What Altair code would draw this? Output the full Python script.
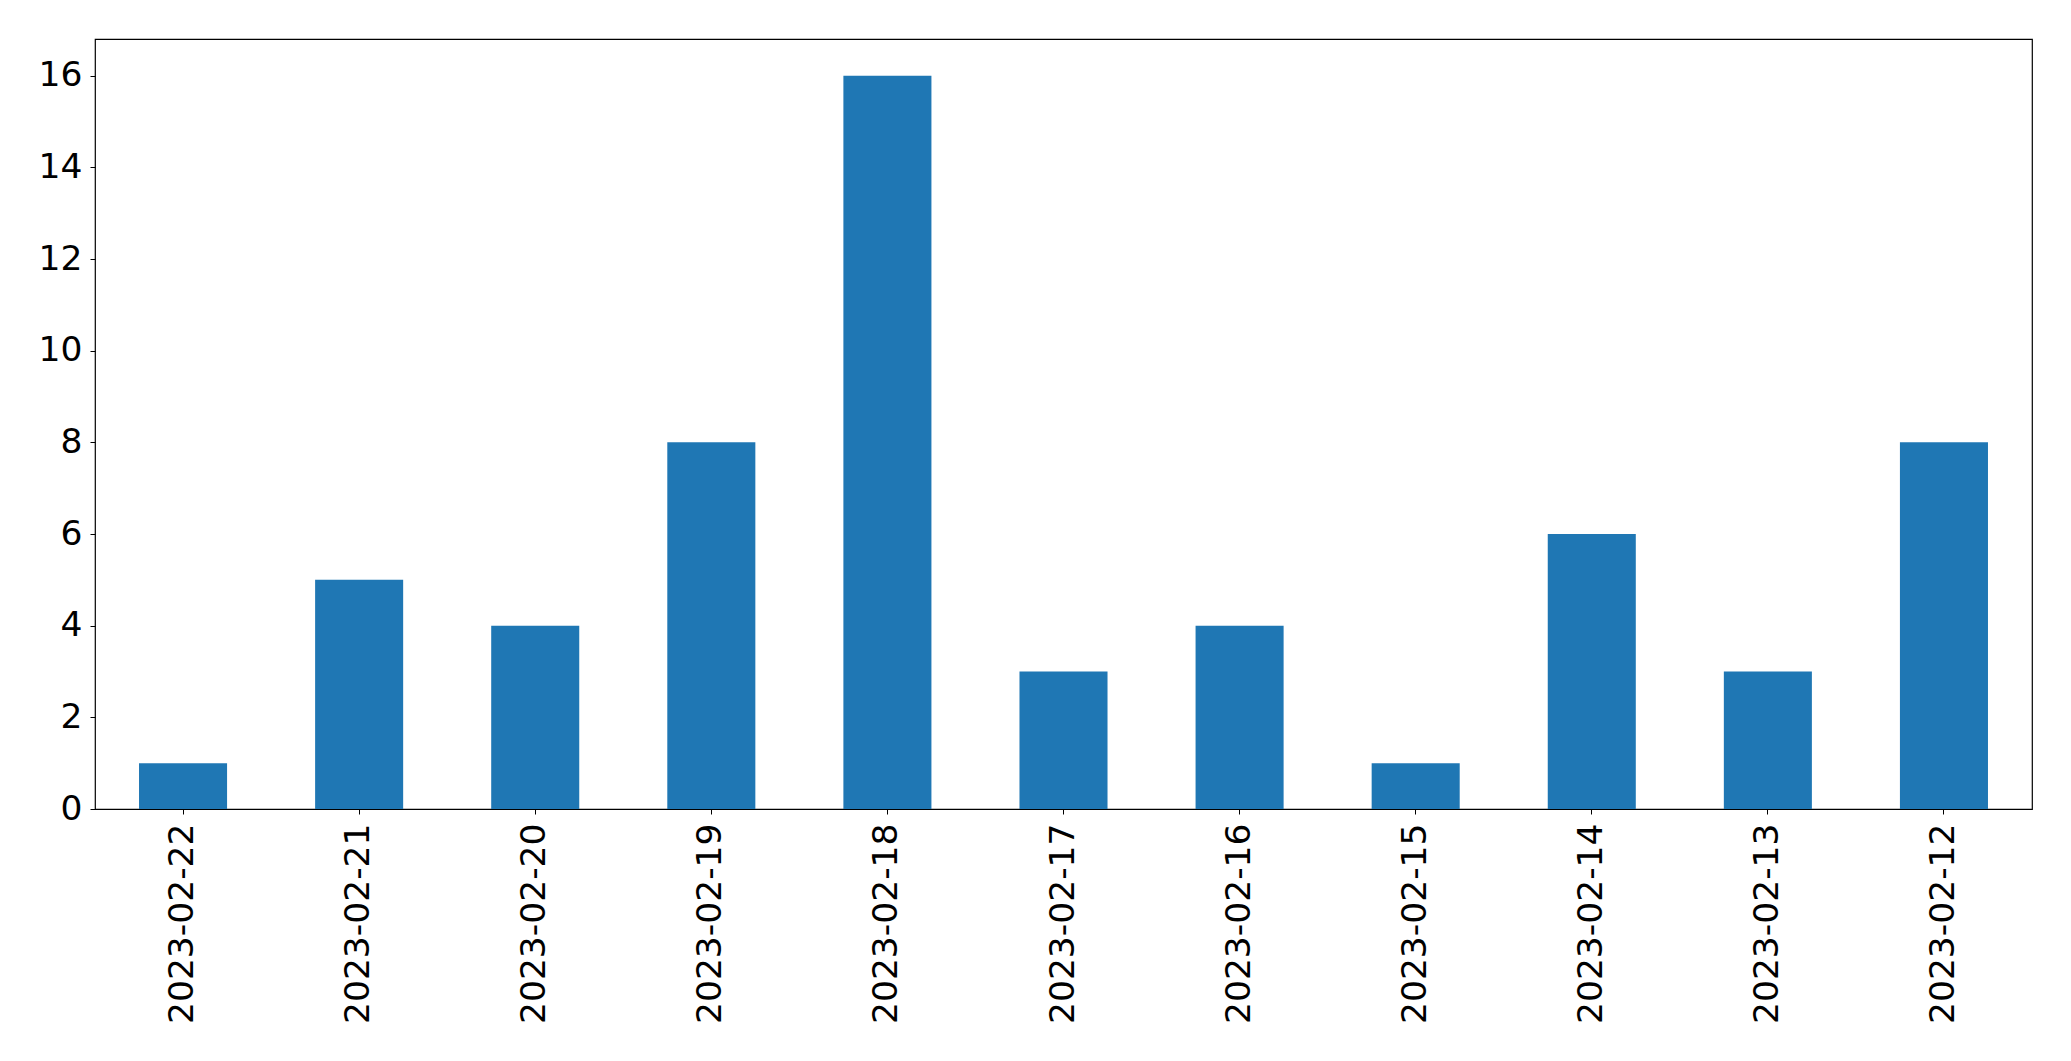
import altair as alt
import pandas as pd

dates = ["2023-02-22", "2023-02-21", "2023-02-20", "2023-02-19", "2023-02-18",
         "2023-02-17", "2023-02-16", "2023-02-15", "2023-02-14", "2023-02-13",
         "2023-02-12"]
counts = [1, 5, 4, 8, 16, 3, 4, 1, 6, 3, 8]
y_ticks = [0, 2, 4, 6, 8, 10, 12, 14, 16]

df = pd.DataFrame({"date": dates, "count": counts})

FONT = "DejaVu Sans"

chart = alt.Chart(df).mark_bar(color="#1f77b4").encode(
    x=alt.X("date:N", sort=dates,
            scale=alt.Scale(paddingInner=0.5, paddingOuter=0.25),
            axis=alt.Axis(title=None, labelAngle=270, labelFontSize=34.5,
                          labelFont=FONT, labelColor="black", tickColor="black",
                          tickSize=5, labelPadding=9, domain=False,
                          labelOverlap=False, labelLimit=0)),
    y=alt.Y("count:Q", scale=alt.Scale(domain=[0, 16.8], nice=False),
            axis=alt.Axis(title=None, values=y_ticks, labelFontSize=34.5,
                          labelFont=FONT, labelColor="black", tickColor="black",
                          tickSize=5, labelPadding=8, domain=False, grid=False,
                          labelLimit=0)),
).properties(
    width=1937, height=770,
    padding={"left": 87, "top": 31, "right": 30, "bottom": 240},
    autosize=alt.AutoSizeParams(type="none"),
).configure(
    background="white",
    view=alt.ViewConfig(stroke="black", strokeWidth=1.2),
)

chart.save("out.html", embed_options={"renderer": "svg", "actions": False})
